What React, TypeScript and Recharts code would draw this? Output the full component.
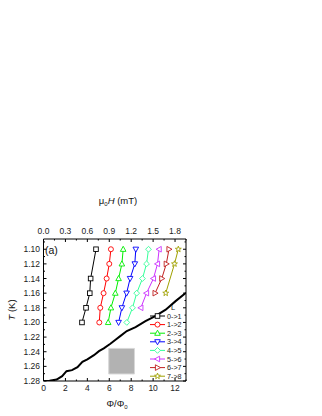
import React from 'react';
import { LineChart, Line, XAxis, YAxis, ReferenceArea } from 'recharts';

// ---------- data ----------
const SERIES_NAMES = ['0->1', '1->2', '2->3', '3->4', '4->5', '5->6', '6->7', '7->8'];
const SERIES_COLORS = ['#000000', '#ff0000', '#00ee00', '#0000ff', '#33ff99', '#cc33ff', '#c02020', '#a0a000'];
const SERIES_SHAPES = ['square', 'circle', 'triUp', 'triDown', 'diamond', 'triLeft', 'triRight', 'star'];

const S01_T = [1.10, 1.14, 1.16, 1.18, 1.20];
const S01_PHI = [4.79, 4.30, 4.22, 3.88, 3.51];
const S12_T = [1.10, 1.12, 1.14, 1.16, 1.18, 1.20];
const S12_PHI = [6.15, 6.0, 5.76, 5.48, 5.18, 5.09];
const S23_T = [1.10, 1.12, 1.14, 1.16, 1.18, 1.20];
const S23_PHI = [7.27, 7.15, 6.85, 6.55, 6.15, 5.9];
const S34_T = [1.10, 1.12, 1.14, 1.16, 1.18, 1.20];
const S34_PHI = [8.42, 8.33, 7.9, 7.58, 7.15, 6.85];
const S45_T = [1.10, 1.12, 1.14, 1.16, 1.18, 1.20];
const S45_PHI = [9.58, 9.4, 9.03, 8.5, 8.12, 7.6];
const S56_T = [1.10, 1.12, 1.14, 1.16, 1.18];
const S56_PHI = [10.55, 10.4, 10.03, 9.4, 8.88];
const S67_T = [1.10, 1.12, 1.14, 1.16];
const S67_PHI = [11.45, 11.2, 10.79, 10.18];
const S78_T = [1.10, 1.12, 1.16];
const S78_PHI = [12.3, 11.95, 11.15];

const BOUNDARY_PHI = [0, 0.55, 1.2, 1.7, 2.1, 2.6, 3.1, 3.55, 4.0, 4.6, 5.06, 5.5, 6.1, 6.6, 7.0, 7.6, 8.4, 9.3, 10.2, 11.15, 12.05, 13.0];
const BOUNDARY_T = [1.28, 1.2795, 1.278, 1.2734, 1.2666, 1.2652, 1.2611, 1.2538, 1.2505, 1.2447, 1.2392, 1.2355, 1.2292, 1.2232, 1.2187, 1.2118, 1.2065, 1.1983, 1.1914, 1.1825, 1.1709, 1.1595];

const GRAY_BOX_PHI = [5.95, 8.3];
const GRAY_BOX_T = [1.2355, 1.2704];

const X_DOMAIN = [0, 13];
const TOP_DOMAIN = [0, 1.95];
const Y_DOMAIN = [1.086, 1.28];
const X_TICKS = [0, 1, 2, 3, 4, 5, 6, 7, 8, 9, 10, 11, 12, 13];
const TOP_TICKS = [0, 0.15, 0.3, 0.45, 0.6, 0.75, 0.9, 1.05, 1.2, 1.35, 1.5, 1.65, 1.8, 1.95];
const Y_TICKS = [1.09, 1.10, 1.11, 1.12, 1.13, 1.14, 1.15, 1.16, 1.17, 1.18, 1.19, 1.20, 1.21, 1.22, 1.23, 1.24, 1.25, 1.26, 1.27, 1.28];

const zip = (phi: number[], t: number[]) => phi.map((p, i) => ({ phi: p, T: t[i] }));
const SERIES_DATA = [
  zip(S01_PHI, S01_T), zip(S12_PHI, S12_T), zip(S23_PHI, S23_T), zip(S34_PHI, S34_T),
  zip(S45_PHI, S45_T), zip(S56_PHI, S56_T), zip(S67_PHI, S67_T), zip(S78_PHI, S78_T),
];
const BOUNDARY_DATA = zip(BOUNDARY_PHI, BOUNDARY_T);
// invisible anchor so the top (field) axis gets registered
const TOP_AXIS_ANCHOR = [
  { mT: TOP_DOMAIN[0], T: Y_DOMAIN[1] },
  { mT: TOP_DOMAIN[1], T: Y_DOMAIN[1] },
];

const FONT = '"Liberation Sans", Arial, sans-serif';

// ---------- markers ----------
function Marker({ shape, cx, cy, color }: { shape: string; cx: number; cy: number; color: string }) {
  const common = { fill: '#ffffff', stroke: color, strokeWidth: 0.9 };
  switch (shape) {
    case 'square':
      return <rect x={cx - 2.3} y={cy - 2.3} width={4.6} height={4.6} {...common} />;
    case 'circle':
      return <circle cx={cx} cy={cy} r={2.5} {...common} />;
    case 'triUp':
      return <polygon points={`${cx},${cy - 3} ${cx - 2.8},${cy + 2.1} ${cx + 2.8},${cy + 2.1}`} {...common} />;
    case 'triDown':
      return <polygon points={`${cx},${cy + 3} ${cx - 2.8},${cy - 2.1} ${cx + 2.8},${cy - 2.1}`} {...common} />;
    case 'diamond':
      return <polygon points={`${cx},${cy - 2.9} ${cx + 2.9},${cy} ${cx},${cy + 2.9} ${cx - 2.9},${cy}`} {...common} />;
    case 'triLeft':
      return <polygon points={`${cx - 3},${cy} ${cx + 2.1},${cy - 2.8} ${cx + 2.1},${cy + 2.8}`} {...common} />;
    case 'triRight':
      return <polygon points={`${cx + 3},${cy} ${cx - 2.1},${cy - 2.8} ${cx - 2.1},${cy + 2.8}`} {...common} />;
    case 'star': {
      const pts: string[] = [];
      for (let i = 0; i < 10; i++) {
        const r = i % 2 === 0 ? 3.1 : 1.3;
        const a = -Math.PI / 2 + (i * Math.PI) / 5;
        pts.push(`${cx + r * Math.cos(a)},${cy + r * Math.sin(a)}`);
      }
      return <polygon points={pts.join(' ')} {...common} />;
    }
    default:
      return <circle cx={cx} cy={cy} r={2.5} {...common} />;
  }
}

// ---------- ticks ----------
const TICK_FONT = 8.5;
const TICK_FILL = '#222';

const BottomTick = (p: any) => {
  const { x, y, payload } = p;
  const v = payload.value as number;
  const major = Math.round(v) % 2 === 0;
  return (
    <g>
      <line x1={x} x2={x} y1={y} y2={y - (major ? 3 : 1.5)} stroke="#000" strokeWidth={1} />
      {major && (
        <text x={x} y={y + 10} textAnchor="middle" fontSize={TICK_FONT} fontFamily={FONT} fill={TICK_FILL}>
          {v}
        </text>
      )}
    </g>
  );
};

const TopTick = (p: any) => {
  const { x, y, payload } = p;
  const v = payload.value as number;
  const major = Math.round(v / 0.15) % 2 === 0;
  return (
    <g>
      <line x1={x} x2={x} y1={y} y2={y + (major ? 3 : 1.5)} stroke="#000" strokeWidth={1} />
      {major && (
        <text x={x} y={y - 5} textAnchor="middle" fontSize={TICK_FONT} fontFamily={FONT} fill={TICK_FILL}>
          {v.toFixed(1)}
        </text>
      )}
    </g>
  );
};

const LeftTick = (p: any) => {
  const { x, y, payload } = p;
  const v = payload.value as number;
  const major = Math.round(v * 100) % 2 === 0;
  return (
    <g>
      <line x1={x} x2={x + (major ? 3 : 1.5)} y1={y} y2={y} stroke="#000" strokeWidth={1} />
      {major && (
        <text x={x - 3.5} y={y + 3} textAnchor="end" fontSize={TICK_FONT} fontFamily={FONT} fill={TICK_FILL}>
          {v.toFixed(2)}
        </text>
      )}
    </g>
  );
};

const RightTick = (p: any) => {
  const { x, y, payload } = p;
  const v = payload.value as number;
  const major = Math.round(v * 100) % 2 === 0;
  return <line x1={x} x2={x - (major ? 3 : 1.5)} y1={y} y2={y} stroke="#000" strokeWidth={1} />;
};

// ---------- overlay (titles, panel label, legend) ----------
function Overlay() {
  const legendX0 = 150;
  const legendX1 = 165;
  const legendY0 = 316;
  const step = 8.6;
  return (
    <svg
      width={322}
      height={416}
      style={{ position: 'absolute', left: 0, top: 0, pointerEvents: 'none' }}
      fontFamily={FONT}
    >
      <text x={45} y={254} fontSize={10.5} fill="#111">(a)</text>
      <text x={118} y={204} fontSize={9.5} textAnchor="middle" fill="#111">
        μ<tspan fontSize={6} dy={2}>0</tspan>
        <tspan dy={-2} fontStyle="italic">H</tspan>
        <tspan> (mT)</tspan>
      </text>
      <text x={117} y={407} fontSize={9.5} textAnchor="middle" fill="#111">
        Φ/Φ<tspan fontSize={6} dy={2}>0</tspan>
      </text>
      <text x={15} y={310} fontSize={9.5} textAnchor="middle" fill="#111" transform="rotate(-90 15 310)">
        <tspan fontStyle="italic">T</tspan> (K)
      </text>
      <text x={173} y={309.5} fontSize={7.5} textAnchor="middle" fill="#222">L</text>
      {SERIES_NAMES.map((name, i) => {
        const y = legendY0 + i * step;
        return (
          <g key={name}>
            <line x1={legendX0} x2={legendX1} y1={y} y2={y} stroke={SERIES_COLORS[i]} strokeWidth={1} />
            <Marker shape={SERIES_SHAPES[i]} cx={(legendX0 + legendX1) / 2} cy={y} color={SERIES_COLORS[i]} />
            <text x={legendX1 + 2} y={y + 2.6} fontSize={7.2} fill="#222">{name}</text>
          </g>
        );
      })}
    </svg>
  );
}

export default function App() {
  return (
    <div style={{ position: 'absolute', left: 0, top: 0, width: 322, height: 416, background: '#fff' }}>
      <LineChart
        width={322}
        height={416}
        margin={{ top: 214, left: 13.5, right: 131, bottom: 10 }}
      >
        <XAxis
          xAxisId="bottom"
          dataKey="phi"
          orientation="bottom"
          type="number"
          domain={X_DOMAIN}
          allowDataOverflow
          ticks={X_TICKS}
          interval={0}
          tickSize={0}
          tickMargin={0}
          tick={BottomTick}
          height={25}
          axisLine={{ stroke: '#000', strokeWidth: 1 }}
        />
        <XAxis
          xAxisId="top"
          dataKey="mT"
          orientation="top"
          type="number"
          domain={TOP_DOMAIN}
          allowDataOverflow
          ticks={TOP_TICKS}
          interval={0}
          tickSize={0}
          tickMargin={0}
          tick={TopTick}
          height={25}
          axisLine={{ stroke: '#000', strokeWidth: 1 }}
        />
        <YAxis
          yAxisId="left"
          dataKey="T"
          orientation="left"
          type="number"
          reversed
          domain={Y_DOMAIN}
          allowDataOverflow
          ticks={Y_TICKS}
          interval={0}
          tickSize={0}
          tickMargin={0}
          tick={LeftTick}
          width={30}
          axisLine={{ stroke: '#000', strokeWidth: 1 }}
        />
        <YAxis
          yAxisId="right"
          dataKey="T"
          orientation="right"
          type="number"
          reversed
          domain={Y_DOMAIN}
          allowDataOverflow
          ticks={Y_TICKS}
          interval={0}
          tickSize={0}
          tickMargin={0}
          tick={RightTick}
          width={5}
          axisLine={{ stroke: '#000', strokeWidth: 1 }}
        />
        <ReferenceArea
          xAxisId="bottom"
          yAxisId="left"
          x1={GRAY_BOX_PHI[0]}
          x2={GRAY_BOX_PHI[1]}
          y1={GRAY_BOX_T[0]}
          y2={GRAY_BOX_T[1]}
          fill="#b2b2b2"
          fillOpacity={1}
          stroke="#d8d8d8"
          strokeWidth={1}
          ifOverflow="visible"
        />
        <Line
          xAxisId="top"
          yAxisId="right"
          data={TOP_AXIS_ANCHOR}
          dataKey="T"
          stroke="none"
          dot={false}
          activeDot={false}
          legendType="none"
          isAnimationActive={false}
        />
        <Line
          xAxisId="bottom"
          yAxisId="left"
          data={BOUNDARY_DATA}
          dataKey="T"
          type="linear"
          stroke="#000"
          strokeWidth={2}
          dot={false}
          activeDot={false}
          isAnimationActive={false}
        />
        {SERIES_DATA.map((d, i) => (
          <Line
            key={SERIES_NAMES[i]}
            xAxisId="bottom"
            yAxisId="left"
            data={d}
            dataKey="T"
            name={SERIES_NAMES[i]}
            type="linear"
            stroke={SERIES_COLORS[i]}
            strokeWidth={1}
            activeDot={false}
            isAnimationActive={false}
            dot={(p: any) => (
              <Marker
                key={`${SERIES_NAMES[i]}-${p.index}`}
                shape={SERIES_SHAPES[i]}
                cx={p.cx}
                cy={p.cy}
                color={SERIES_COLORS[i]}
              />
            )}
          />
        ))}
      </LineChart>
      <Overlay />
    </div>
  );
}
